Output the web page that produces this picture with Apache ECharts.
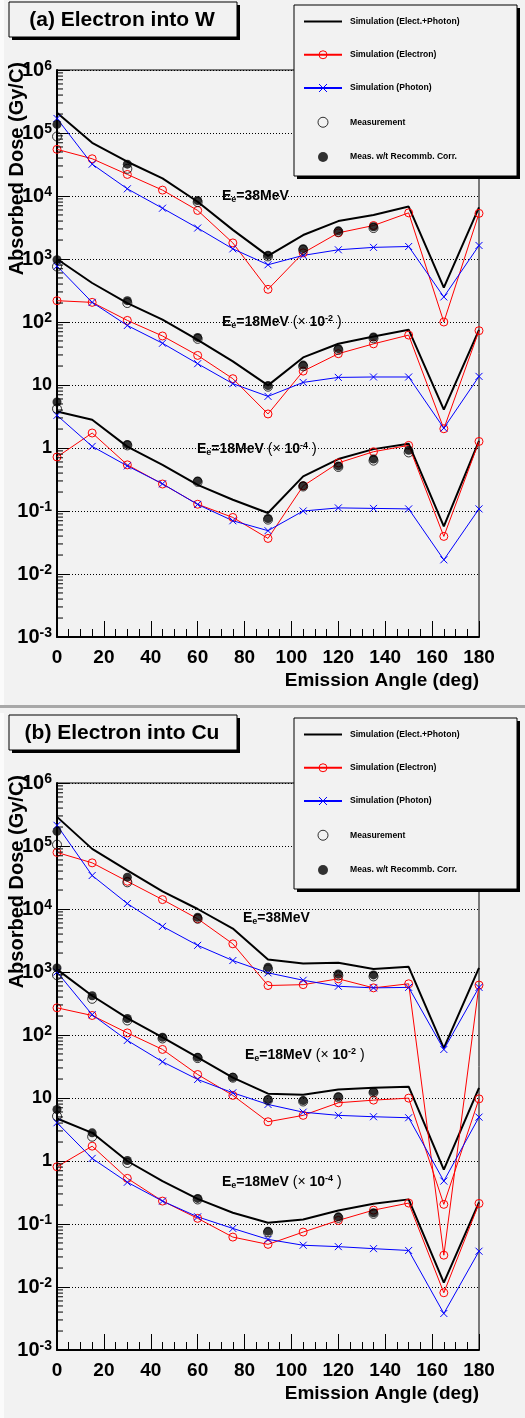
<!DOCTYPE html>
<html>
<head>
<meta charset="utf-8">
<script src="https://cdn.jsdelivr.net/npm/echarts@6/dist/echarts.min.js"></script>
<style>
html,body{margin:0;padding:0;background:#f2f2f2;}
#main{width:525px;height:1418px;}
</style>
</head>
<body>
<div id="main"></div>
<script>
var FONT = 'Liberation Sans, Arial, Helvetica, sans-serif';
var angles = [0, 15, 30, 45, 60, 75, 90, 105, 120, 135, 150, 165, 180];

// (a) electron into W, 38 MeV
var w38Total = [2.1e5, 7.0e4, 3.5e4, 1.9e4, 8.1e3, 2.9e3, 1.12e3, 2.4e3, 4.0e3, 5.0e3, 6.8e3, 350, 6.6e3];
var w38Elec  = [5.5e4, 3.9e4, 2.2e4, 1.24e4, 5.9e3, 1.8e3, 330, 1.25e3, 2.6e3, 3.4e3, 5.4e3, 100, 5.3e3];
var w38Phot  = [1.7e5, 3.2e4, 1.3e4, 6.4e3, 3.1e3, 1.45e3, 810, 1.14e3, 1.4e3, 1.53e3, 1.58e3, 250, 1.64e3];
var w38MeasAng = [0, 30, 60, 90, 105, 120, 135];
var w38Meas    = [8.8e4, 2.7e4, 8.0e3, 1.1e3, 1.4e3, 2.7e3, 3.1e3];
var w38Corr    = [1.37e5, 3.2e4, 8.5e3, 1.15e3, 1.46e3, 2.8e3, 3.25e3];
// (a) 18 MeV x 1e-2
var w18Total = [1.0e3, 416, 200, 109, 52, 23.7, 9.86, 27.4, 45.2, 59, 75.5, 4.06, 75];
var w18Elec  = [218, 205, 106, 60, 29.5, 12.6, 3.47, 16.6, 31.4, 45, 62, 2.02, 72.8];
var w18Phot  = [770, 205, 88, 46, 21.8, 10.5, 6.6, 11, 13.2, 13.4, 13.4, 2.07, 13.7];
var w18MeasAng = [0, 30, 60, 90, 105, 120, 135];
var w18Meas    = [760, 200, 54, 9.4, 19.8, 36, 55];
var w18Corr    = [975, 218, 57, 9.8, 20.7, 37.7, 57.8];
// (a) 18 MeV x 1e-4
var w18bTotal = [3.8, 2.81, 1.05, 0.54, 0.26, 0.151, 0.093, 0.355, 0.668, 0.96, 1.17, 0.057, 1.3];
var w18bElec  = [0.72, 1.73, 0.54, 0.268, 0.128, 0.079, 0.0367, 0.25, 0.58, 0.873, 1.1, 0.0395, 1.27];
var w18bPhot  = [3.3, 1.06, 0.52, 0.27, 0.127, 0.070, 0.0487, 0.1, 0.112, 0.11, 0.108, 0.0168, 0.108];
var w18bMeasAng = [0, 30, 60, 90, 105, 120, 135, 150];
var w18bMeas    = [4.2, 1.1, 0.29, 0.073, 0.245, 0.5, 0.63, 0.85];
var w18bCorr    = [5.37, 1.14, 0.3, 0.076, 0.252, 0.52, 0.67, 0.92];

// (b) electron into Cu, 38 MeV
var c38Total = [2.9e5, 9.0e4, 4.1e4, 1.91e4, 1.0e4, 4.9e3, 1.58e3, 1.36e3, 1.4e3, 1.12e3, 1.21e3, 62, 1.16e3];
var c38Elec  = [7.9e4, 5.4e4, 2.75e4, 1.41e4, 7.0e3, 2.8e3, 610, 630, 780, 560, 650, 0.032, 620];
var c38Phot  = [2.13e5, 3.4e4, 1.22e4, 5.3e3, 2.65e3, 1.52e3, 970, 740, 594, 560, 570, 58.9, 570];
var c38MeasAng = [0, 30, 60, 90, 120, 135];
var c38Meas    = [1.05e5, 2.65e4, 7.0e3, 1.1e3, 880, 850];
var c38Corr    = [1.71e5, 3.2e4, 7.4e3, 1.19e3, 930, 900];
// (b) 18 MeV x 1e-2
var c18Total = [1.1e3, 420, 185, 92, 44, 21, 11.7, 11.25, 13.6, 14.5, 15.1, 0.73, 14.5];
var c18Elec  = [270, 204, 108, 59, 23.6, 11, 4.2, 5.3, 8.4, 9.25, 9.95, 0.205, 9.7];
var c18Phot  = [1.0e3, 210, 82, 37.6, 19.7, 12.1, 7.9, 5.96, 5.3, 5.04, 4.86, 0.48, 4.97];
var c18MeasAng = [0, 15, 30, 45, 60, 75, 90, 105, 120, 135];
var c18Meas    = [890, 375, 170, 88, 43, 21, 9.2, 8.8, 10.2, 12.2];
var c18Corr    = [1.16e3, 420, 183, 92, 44.5, 21.4, 9.5, 9.1, 10.5, 12.6];
// (b) 18 MeV x 1e-4
var c18bTotal = [4.73, 2.8, 1.0, 0.48, 0.25, 0.151, 0.105, 0.118, 0.164, 0.21, 0.246, 0.0117, 0.22];
var c18bElec  = [0.81, 1.72, 0.53, 0.231, 0.123, 0.062, 0.0475, 0.0745, 0.114, 0.166, 0.215, 0.0081, 0.212];
var c18bPhot  = [4.05, 1.1, 0.46, 0.231, 0.13, 0.085, 0.057, 0.046, 0.0437, 0.0406, 0.038, 0.0038, 0.037];
var c18bMeasAng = [0, 15, 30, 60, 90, 120, 135];
var c18bMeas    = [5.15, 2.43, 0.93, 0.245, 0.074, 0.125, 0.145];
var c18bCorr    = [6.58, 2.8, 1.02, 0.255, 0.077, 0.13, 0.151];

var N_TOT = 'Simulation (Elect.+Photon)';
var N_EL = 'Simulation (Electron)';
var N_PH = 'Simulation (Photon)';
var N_ME = 'Measurement';
var N_MC = 'Meas. w/t Recommb. Corr.';
var CROSS = 'path://M0,0L10,10M10,0L0,10';

function pairs(xs, ys) {
  return xs.map(function (x, i) { return [x, ys[i]]; });
}

function group(idx, tot, el, ph, mAng, meas, corr) {
  return [
    { name: N_TOT, type: 'line', xAxisIndex: idx, yAxisIndex: idx, data: pairs(angles, tot),
      symbol: 'none', lineStyle: { color: '#000', width: 2 }, itemStyle: { color: '#000' }, z: 2 },
    { name: N_EL, type: 'line', xAxisIndex: idx, yAxisIndex: idx, data: pairs(angles, el),
      symbol: 'circle', symbolSize: 8, lineStyle: { color: '#ff0000', width: 1 },
      itemStyle: { color: 'rgba(0,0,0,0)', borderColor: '#ff0000', borderWidth: 1 }, z: 3 },
    { name: N_PH, type: 'line', xAxisIndex: idx, yAxisIndex: idx, data: pairs(angles, ph),
      symbol: CROSS, symbolSize: 7, lineStyle: { color: '#0000ff', width: 1 },
      itemStyle: { color: 'rgba(0,0,0,0)', borderColor: '#0000ff', borderWidth: 1 }, z: 3 },
    { name: N_ME, type: 'scatter', xAxisIndex: idx, yAxisIndex: idx, data: pairs(mAng, meas),
      symbol: 'circle', symbolSize: 9,
      itemStyle: { color: 'rgba(0,0,0,0)', borderColor: '#000', borderWidth: 1 }, z: 4 },
    { name: N_MC, type: 'scatter', xAxisIndex: idx, yAxisIndex: idx, data: pairs(mAng, corr),
      symbol: 'circle', symbolSize: 9, itemStyle: { color: '#000' }, z: 5 }
  ];
}

// log minor ticks 2..9 per decade
var minorVals = [];
for (var k = -3; k < 6; k++) {
  for (var m = 2; m < 10; m++) minorVals.push(m * Math.pow(10, k));
}
function minorTicks(idx) {
  return {
    type: 'custom', xAxisIndex: idx, yAxisIndex: idx, silent: true, z: 6,
    data: minorVals.map(function (v) { return [0, v]; }),
    renderItem: function (params, api) {
      var p = api.coord([0, api.value(1)]);
      return { type: 'line', shape: { x1: p[0], y1: p[1], x2: p[0] + 6, y2: p[1] },
        style: { stroke: '#000', lineWidth: 1 } };
    }
  };
}

function yLabel(v) {
  var e = Math.round(Math.log(v) / Math.LN10);
  if (e === 0) return '{p|1}';
  if (e === 1) return '{p|10}';
  return '{b|10}{s|' + e + '}';
}

function xAxis(idx) {
  return {
    gridIndex: idx, type: 'value', min: 0, max: 180, interval: 20,
    axisLine: { onZero: false, lineStyle: { color: '#000', width: 2 } },
    axisTick: { inside: true, length: 16, lineStyle: { color: '#000' } },
    minorTick: { show: true, splitNumber: 4, length: 8, lineStyle: { color: '#000' } },
    axisLabel: { color: '#000', fontSize: 19, fontWeight: 'bold', fontFamily: FONT, margin: 11 },
    splitLine: { show: false }
  };
}
function yAxis(idx) {
  return {
    gridIndex: idx, type: 'log', logBase: 10, min: 0.001, max: 1e6, splitNumber: 9,
    axisLine: { show: true, lineStyle: { color: '#000', width: 2 } },
    axisTick: { show: true, inside: true, length: 12, lineStyle: { color: '#000' } },
    axisLabel: {
      formatter: yLabel, margin: 5, color: '#000',
      rich: {
        p: { fontSize: 18, fontWeight: 'bold', fontFamily: FONT, color: '#000', lineHeight: 22 },
        b: { fontSize: 20, fontWeight: 'bold', fontFamily: FONT, color: '#000', lineHeight: 22 },
        s: { fontSize: 14, fontWeight: 'bold', fontFamily: FONT, color: '#000', lineHeight: 12, verticalAlign: 'top' }
      }
    },
    splitLine: { show: true, lineStyle: { type: [1, 2], color: '#000', width: 1 } }
  };
}

var OFF = 713;
function legend(top) {
  return {
    left: 303, top: top, orient: 'vertical', padding: 0, z: 20,
    itemWidth: 38, itemHeight: 10, itemGap: 24.25, selectedMode: false,
    itemStyle: { borderWidth: 1 },
    textStyle: { fontSize: 8.6, fontWeight: 'bold', fontFamily: FONT, color: '#000', padding: [0, 0, 0, 3] },
    data: [{ name: N_TOT, itemStyle: { opacity: 0 } }, N_EL, N_PH, N_ME, N_MC]
  };
}

var noteRich = {
  b: { fontSize: 14, fontWeight: 'bold', fontFamily: FONT, fill: '#000', lineHeight: 16 },
  n: { fontSize: 14, fontWeight: 'normal', fontFamily: FONT, fill: '#000', lineHeight: 16 },
  s: { fontSize: 9, fontWeight: 'bold', fontFamily: FONT, fill: '#000', lineHeight: 8, verticalAlign: 'bottom' },
  u: { fontSize: 9, fontWeight: 'bold', fontFamily: FONT, fill: '#000', lineHeight: 8, verticalAlign: 'top' }
};
function note(x, y, text) {
  return { type: 'text', x: x, y: y, z: 20,
    style: { text: text, rich: noteRich, align: 'left', verticalAlign: 'middle' } };
}

function panelDeco(dy, title) {
  return [
    { type: 'rect', shape: { x: 0, y: dy, width: 4, height: 705 }, style: { fill: '#fbfbfb' }, z: 0 },
    { type: 'rect', shape: { x: 0, y: dy + 705, width: 525, height: 3 }, style: { fill: '#a8a8a8' }, z: 0 },
    // title box
    { type: 'rect', shape: { x: 12, y: dy + 5, width: 228, height: 35 }, style: { fill: '#000' }, z: 10 },
    { type: 'rect', shape: { x: 9, y: dy + 2, width: 228, height: 35 }, style: { fill: '#f2f2f2', stroke: '#000', lineWidth: 1 }, z: 11 },
    { type: 'text', x: 122, y: dy + 20, z: 12,
      style: { text: title, fontSize: 21, fontWeight: 'bold', fontFamily: FONT, fill: '#000', align: 'center', verticalAlign: 'middle' } },
    // legend box
    { type: 'rect', shape: { x: 297, y: dy + 8, width: 223, height: 171 }, style: { fill: '#000' }, z: 10 },
    { type: 'rect', shape: { x: 294, y: dy + 5, width: 223, height: 171 }, style: { fill: '#f2f2f2', stroke: '#000', lineWidth: 1 }, z: 11 },
    // axis titles
    { type: 'text', x: 17, y: dy + 62, rotation: Math.PI / 2, z: 12,
      style: { text: 'Absorbed Dose (Gy/C)', fontSize: 20, fontWeight: 'bold', fontFamily: FONT, fill: '#000', align: 'right', verticalAlign: 'middle' } },
    { type: 'text', x: 479, y: dy + 681, z: 12,
      style: { text: 'Emission Angle (deg)', fontSize: 19, fontWeight: 'bold', fontFamily: FONT, fill: '#000', align: 'right', verticalAlign: 'middle' } }
  ];
}

var series = []
  .concat(group(0, w38Total, w38Elec, w38Phot, w38MeasAng, w38Meas, w38Corr))
  .concat(group(0, w18Total, w18Elec, w18Phot, w18MeasAng, w18Meas, w18Corr))
  .concat(group(0, w18bTotal, w18bElec, w18bPhot, w18bMeasAng, w18bMeas, w18bCorr))
  .concat(group(1, c38Total, c38Elec, c38Phot, c38MeasAng, c38Meas, c38Corr))
  .concat(group(1, c18Total, c18Elec, c18Phot, c18MeasAng, c18Meas, c18Corr))
  .concat(group(1, c18bTotal, c18bElec, c18bPhot, c18bMeasAng, c18bMeas, c18bCorr));
series.push(minorTicks(0), minorTicks(1));

var chart = echarts.init(document.getElementById('main'));
chart.setOption({
  backgroundColor: '#f2f2f2',
  animation: false,
  grid: [
    { left: 57, top: 70, width: 422, height: 567, show: true, borderColor: '#000', borderWidth: 1, outerBoundsMode: 'none' },
    { left: 57, top: 70 + OFF, width: 422, height: 567, show: true, borderColor: '#000', borderWidth: 1, outerBoundsMode: 'none' }
  ],
  xAxis: [xAxis(0), xAxis(1)],
  yAxis: [yAxis(0), yAxis(1)],
  legend: [legend(17), legend(17 + OFF)],
  series: series,
  graphic: [].concat(panelDeco(0, '(a) Electron into W'), panelDeco(OFF, '(b) Electron into Cu'), [
    note(222, 196, '{b|E}{s|e}{b|=38MeV}'),
    note(222, 322, '{b|E}{s|e}{b|=18MeV }{n|(×}{b| 10}{u|-2}{n| )}'),
    note(197, 449, '{b|E}{s|e}{b|=18MeV }{n|(×}{b| 10}{u|-4}{n| )}'),
    note(243, 918, '{b|E}{s|e}{b|=38MeV}'),
    note(245, 1055, '{b|E}{s|e}{b|=18MeV }{n|(×}{b| 10}{u|-2}{n| )}'),
    note(222, 1182, '{b|E}{s|e}{b|=18MeV }{n|(×}{b| 10}{u|-4}{n| )}')
  ])
});
</script>
</body>
</html>
